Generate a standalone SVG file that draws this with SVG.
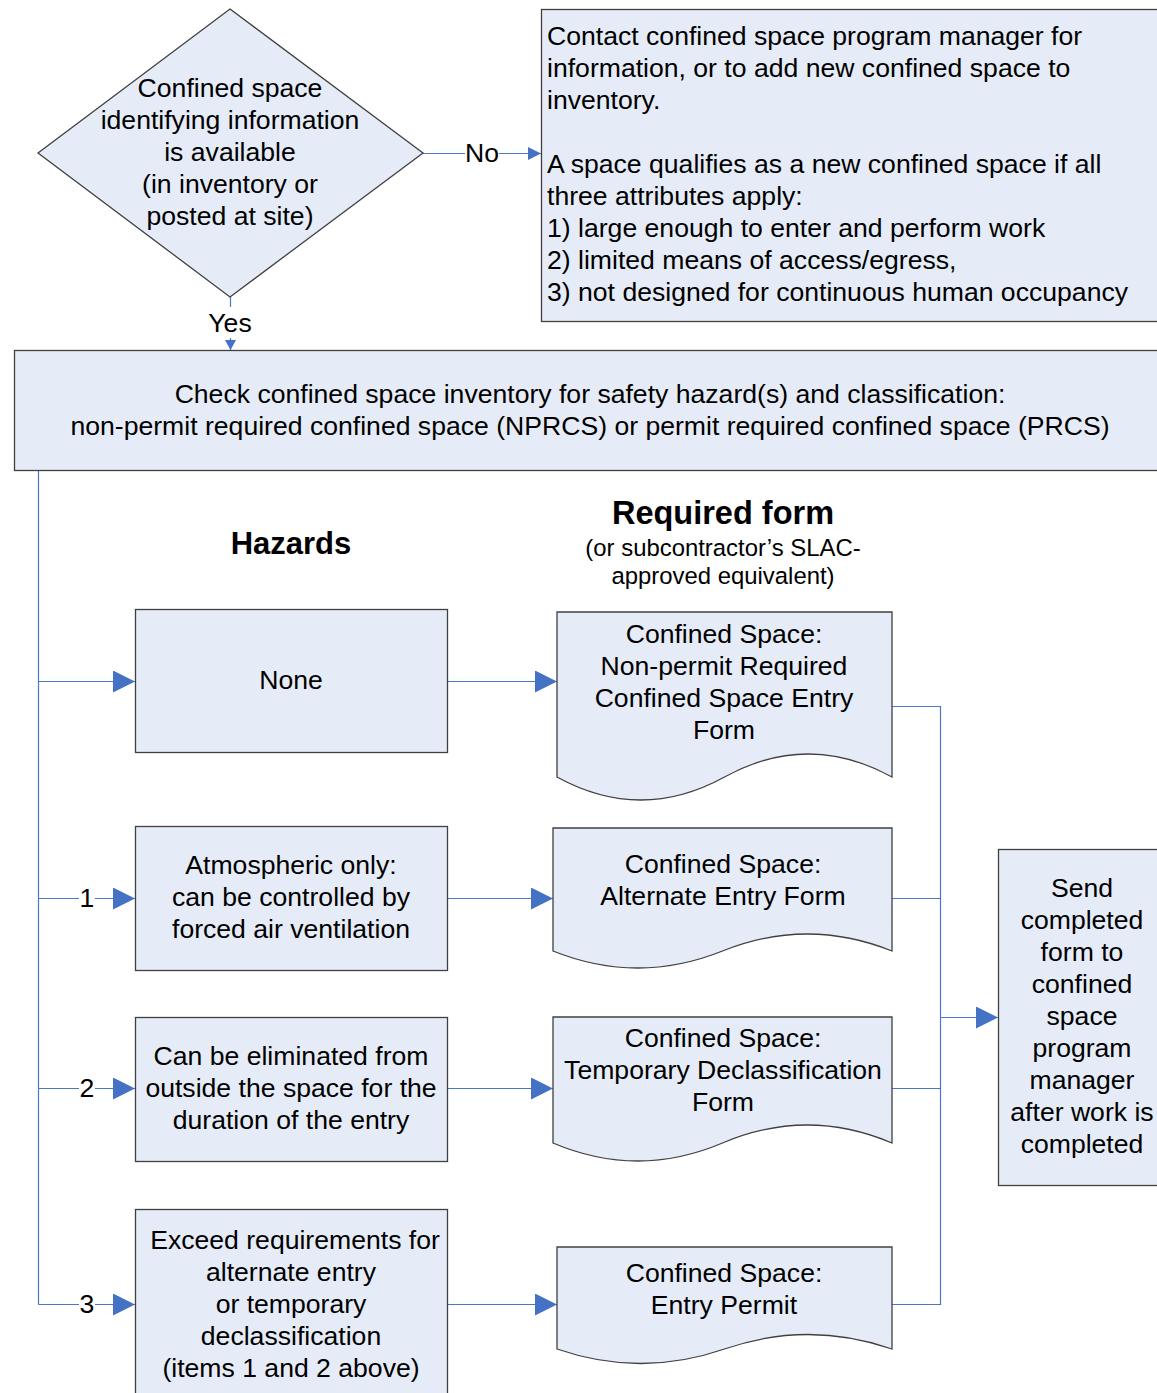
<svg xmlns="http://www.w3.org/2000/svg" width="1157" height="1393" viewBox="0 0 1157 1393">
<defs>
<style>
.shape{fill:#E6ECF7;stroke:#404040;stroke-width:1.3}
.t{font-family:"Liberation Sans",Arial,sans-serif;font-size:26.6px;fill:#000}
.c{text-anchor:middle}
.b{font-weight:bold;font-size:31px}
.r{font-size:32.5px}
.s{font-size:23.9px}
.conn{fill:none;stroke:#4A78C4;stroke-width:1.2}
</style>
<marker id="big" markerUnits="userSpaceOnUse" markerWidth="22" markerHeight="22" refX="22" refY="11" orient="auto"><path d="M0,0 L22,11 L0,22 Z" fill="#4472C4"/></marker>
<marker id="mid" markerUnits="userSpaceOnUse" markerWidth="14" markerHeight="14" refX="13" refY="6.5" orient="auto"><path d="M0,0 L13,6.5 L0,13 Z" fill="#4472C4"/></marker>
<marker id="sm" markerUnits="userSpaceOnUse" markerWidth="12" markerHeight="12" refX="10" refY="5.5" orient="auto"><path d="M0,0 L10,5.5 L0,11 Z" fill="#4472C4"/></marker>
</defs>
<rect width="1157" height="1393" fill="#fff"/>

<g id="connectors">
<path class="conn" d="M423,153.5 H465"/>
<path class="conn" d="M499,153.5 H541" marker-end="url(#mid)"/>
<path class="conn" d="M230.5,297 V307"/>
<path class="conn" d="M230.5,338 V350" marker-end="url(#sm)"/>
<path class="conn" d="M38.5,470 V1304.5"/>
<path class="conn" d="M38.5,681.5 H135" marker-end="url(#big)"/>
<path class="conn" d="M38.5,898.5 H79"/>
<path class="conn" d="M95,898.5 H135" marker-end="url(#big)"/>
<path class="conn" d="M38.5,1088.5 H79"/>
<path class="conn" d="M95,1088.5 H135" marker-end="url(#big)"/>
<path class="conn" d="M38.5,1304.5 H79"/>
<path class="conn" d="M95,1304.5 H135" marker-end="url(#big)"/>
<path class="conn" d="M447,681.5 H557" marker-end="url(#big)"/>
<path class="conn" d="M447,898.5 H553" marker-end="url(#big)"/>
<path class="conn" d="M447,1088.5 H553" marker-end="url(#big)"/>
<path class="conn" d="M447,1304.5 H557" marker-end="url(#big)"/>
<path class="conn" d="M892,706.5 H940.5 V1304.5 H892"/>
<path class="conn" d="M892,898.5 H940.5"/>
<path class="conn" d="M892,1088.5 H940.5"/>
<path class="conn" d="M940.5,1017.5 H998" marker-end="url(#big)"/>
<text class="t c" x="482" y="162">No</text>
<text class="t c" x="230" y="332">Yes</text>
<text class="t c" x="87" y="907">1</text>
<text class="t c" x="87" y="1097">2</text>
<text class="t c" x="87" y="1313">3</text>
</g>

<g id="decision">
<path class="shape" d="M230,9 L423,153 L230,297 L38,153 Z"/>
<text class="t c" x="230" y="97">Confined space</text>
<text class="t c" x="230" y="129">identifying information</text>
<text class="t c" x="230" y="161">is available</text>
<text class="t c" x="230" y="193">(in inventory or</text>
<text class="t c" x="230" y="225">posted at site)</text>
</g>

<g id="contact">
<rect class="shape" x="541.5" y="9.5" width="630" height="312"/>
<text class="t" x="547" y="45">Contact confined space program manager for</text>
<text class="t" x="547" y="77">information, or to add new confined space to</text>
<text class="t" x="547" y="109">inventory.</text>
<text class="t" x="547" y="173">A space qualifies as a new confined space if all</text>
<text class="t" x="547" y="205">three attributes apply:</text>
<text class="t" x="547" y="237">1) large enough to enter and perform work</text>
<text class="t" x="547" y="269">2) limited means of access/egress,</text>
<text class="t" x="547" y="301">3) not designed for continuous human occupancy</text>
</g>

<g id="check">
<rect class="shape" x="14.5" y="350.5" width="1160" height="120"/>
<text class="t c" x="590" y="403">Check confined space inventory for safety hazard(s) and classification:</text>
<text class="t c" x="590" y="435">non-permit required confined space (NPRCS) or permit required confined space (PRCS)</text>
</g>

<g id="titles">
<text class="t c b" x="291" y="554">Hazards</text>
<text class="t c b r" x="723" y="524">Required form</text>
<text class="t c s" x="723" y="556">(or subcontractor’s SLAC-</text>
<text class="t c s" x="723" y="584">approved equivalent)</text>
</g>

<g id="h-none">
<rect class="shape" x="135.5" y="609.5" width="312" height="143"/>
<text class="t c" x="291" y="689">None</text>
</g>
<g id="h-atmos">
<rect class="shape" x="135.5" y="826.5" width="312" height="144"/>
<text class="t c" x="291" y="874">Atmospheric only:</text>
<text class="t c" x="291" y="906">can be controlled by</text>
<text class="t c" x="291" y="938">forced air ventilation</text>
</g>
<g id="h-elim">
<rect class="shape" x="135.5" y="1017.5" width="312" height="144"/>
<text class="t c" x="291" y="1065">Can be eliminated from</text>
<text class="t c" x="291" y="1097">outside the space for the</text>
<text class="t c" x="291" y="1129">duration of the entry</text>
</g>
<g id="h-exceed">
<rect class="shape" x="135.5" y="1209.5" width="312" height="200"/>
<text class="t c" x="295" y="1249">Exceed requirements for</text>
<text class="t c" x="291" y="1281">alternate entry</text>
<text class="t c" x="291" y="1313">or temporary</text>
<text class="t c" x="291" y="1345">declassification</text>
<text class="t c" x="291" y="1377">(items 1 and 2 above)</text>
</g>

<g id="f-npr">
<path class="shape" d="M557,612 H892 V777 Q808.25,731 724.5,777 Q640.75,823 557,777 Z"/>
<text class="t c" x="724" y="643">Confined Space:</text>
<text class="t c" x="724" y="675">Non-permit Required</text>
<text class="t c" x="724" y="707">Confined Space Entry</text>
<text class="t c" x="724" y="739">Form</text>
</g>
<g id="f-alt">
<path class="shape" d="M553,828 H892 V951 Q807.25,917 722.5,951 Q637.75,985 553,951 Z"/>
<text class="t c" x="723" y="873">Confined Space:</text>
<text class="t c" x="723" y="905">Alternate Entry Form</text>
</g>
<g id="f-temp">
<path class="shape" d="M553,1017 H892 V1143 Q807.25,1107 722.5,1143 Q637.75,1179 553,1143 Z"/>
<text class="t c" x="723" y="1047">Confined Space:</text>
<text class="t c" x="723" y="1079">Temporary Declassification</text>
<text class="t c" x="723" y="1111">Form</text>
</g>
<g id="f-permit">
<path class="shape" d="M557,1247 H892 V1349 Q808.25,1320 724.5,1349 Q640.75,1378 557,1349 Z"/>
<text class="t c" x="724" y="1282">Confined Space:</text>
<text class="t c" x="724" y="1314">Entry Permit</text>
</g>

<g id="send">
<rect class="shape" x="998.5" y="849.5" width="170" height="336"/>
<text class="t c" x="1082" y="897">Send</text>
<text class="t c" x="1082" y="929">completed</text>
<text class="t c" x="1082" y="961">form to</text>
<text class="t c" x="1082" y="993">confined</text>
<text class="t c" x="1082" y="1025">space</text>
<text class="t c" x="1082" y="1057">program</text>
<text class="t c" x="1082" y="1089">manager</text>
<text class="t c" x="1082" y="1121">after work is</text>
<text class="t c" x="1082" y="1153">completed</text>
</g>
</svg>
